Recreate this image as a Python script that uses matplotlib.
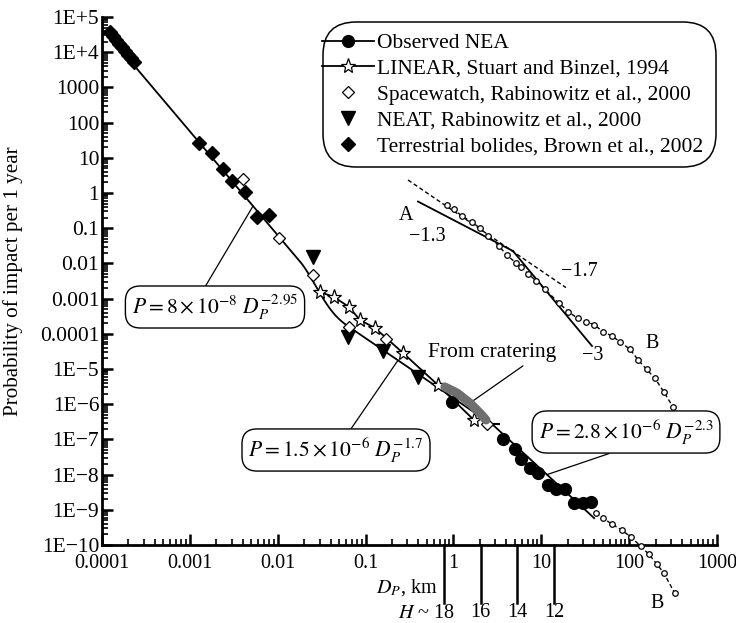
import numpy as np
import matplotlib
matplotlib.use("Agg")
import matplotlib.pyplot as plt
from matplotlib.lines import Line2D
from matplotlib.patches import FancyBboxPatch

plt.rcParams['font.family'] = ['Liberation Serif', 'DejaVu Serif']
plt.rcParams['mathtext.fontset'] = 'stix'

W, H = 736, 623
FS = 14.5
LFS = 15.5

# ---------------- data ----------------
x_ticks = [1e-4, 1e-3, 1e-2, 1e-1, 1, 10, 100, 1000]
x_labels = ['0.0001', '0.001', '0.01', '0.1', '1', '10', '100', '1000']
y_ticks = [1e5, 1e4, 1e3, 1e2, 1e1, 1, 1e-1, 1e-2, 1e-3, 1e-4,
           1e-5, 1e-6, 1e-7, 1e-8, 1e-9, 1e-10]
y_labels = ['1E+5', '1E+4', '1000', '100', '10', '1', '0.1', '0.01', '0.001',
            '0.0001', '1E\u22125', '1E\u22126', '1E\u22127', '1E\u22128',
            '1E\u22129', '1E\u221210']

# power-law fits  P = a * D^b
fit_small = (8e-8, -2.95)
fit_mid = (1.5e-6, -1.7)
fit_large = (2.8e-6, -2.3)

bolide_d = [1.23e-4, 1.33e-4, 1.44e-4, 1.56e-4, 1.69e-4, 1.83e-4, 1.98e-4,
            2.14e-4, 2.31e-4, 1.27e-3, 1.79e-3, 2.38e-3, 3.02e-3, 4.25e-3,
            5.8e-3, 7.96e-3]
bolide_p = [3.75e4, 2.9e4, 2.2e4, 1.7e4, 1.4e4, 1.08e4, 8.3e3, 6.8e3, 5.3e3,
            26, 13.7, 4.8, 2.2, 1.07, 0.21, 0.24]

spacewatch_d = [4.03e-3, 1.035e-2, 0.0252, 0.0648, 0.1706, 2.41]
spacewatch_p = [2.5, 0.053, 4.7e-3, 1.56e-4, 7.1e-5, 2.74e-7]

neat_d = [0.0252, 0.063, 0.158, 0.395]
neat_p = [0.0152, 8.1e-5, 3.24e-5, 5.9e-6]

linear_d = [0.0303, 0.0437, 0.0648, 0.0863, 0.128, 0.267, 0.667, 1.71]
linear_p = [1.54e-3, 1.11e-3, 5.8e-4, 2.47e-4, 1.46e-4, 2.85e-5, 3.5e-6, 3.56e-7]

nea_d = [0.96, 3.65, 5.0, 5.85, 7.4, 9.1, 11.9, 14.6, 18.5, 23.4, 29.6, 36.6]
nea_p = [1.15e-6, 1.03e-7, 5.3e-8, 2.8e-8, 1.54e-8, 1.1e-8, 5.1e-9, 3.9e-9,
         3.9e-9, 1.56e-9, 1.56e-9, 1.67e-9]

crater_d = [0.80, 1.10, 1.54, 2.00, 2.35]
crater_p = [3.08e-6, 2.08e-6, 1.08e-6, 5.6e-7, 3.56e-7]

curve_b_d = [41.7, 50.1, 63.4, 82.4, 104, 135, 167, 206, 248, 330]
curve_b_p = [8.1e-10, 5.85e-10, 3.95e-10, 2.67e-10, 1.69e-10, 9.4e-11,
             5.5e-11, 2.9e-11, 1.6e-11, 4.3e-12]

inset_d = [0.837, 1.02, 1.24, 1.61, 2.01, 2.49, 3.30, 4.04, 5.11, 5.87, 7.11,
           8.71, 11.0, 16.0, 20.3, 25.9, 32.7, 40.1, 50.8, 63.3, 78.7, 102,
           127, 158, 197, 249, 316]
inset_p = [0.456, 0.344, 0.222, 0.153, 0.0993, 0.060, 0.0312, 0.0173, 0.0105,
           8.05e-3, 5.0e-3, 3.23e-3, 1.84e-3, 7.35e-4, 4.25e-4, 2.75e-4,
           2.23e-4, 1.78e-4, 1.15e-4, 8.7e-5, 5.97e-5, 3.63e-5, 1.8e-5,
           9.8e-6, 5.4e-6, 2.2e-6, 8.3e-7]

# schematic broken power law (A) and reference slope
a_break = (4.76, 0.0225)
a_span = (0.395, 37.8)
a_slopes = (-1.3, -3.0)
ref_anchor = (0.304, 2.34)
ref_end = 19.1
ref_slope = -1.7

h_mag = [18, 16, 14, 12]
h_diam = [0.78, 2.04, 5.33, 13.95]


def fpos(px, py):
    return px / W, 1 - py / H


def law(fit, logd):
    return np.log10(fit[0]) + fit[1] * logd


# ---------------- figure ----------------
fig = plt.figure(figsize=(W / 100, H / 100), dpi=100)
ax = fig.add_axes([102 / W, 1 - 545 / H, 615 / W, 528 / H])
ax.set_xscale('log')
ax.set_yscale('log')
ax.set_xlim(1e-4, 1e3)
ax.set_ylim(1e-10, 1e5)
for s in ('top', 'right'):
    ax.spines[s].set_visible(False)
for s in ('left', 'bottom'):
    ax.spines[s].set_linewidth(2.0)

ax.set_xticks(x_ticks)
ax.set_xticklabels(x_labels)
ax.set_yticks(y_ticks)
ax.set_yticklabels(y_labels)
ax.xaxis.set_minor_locator(matplotlib.ticker.LogLocator(base=10, subs=np.arange(2, 10), numticks=30))
ax.yaxis.set_minor_locator(matplotlib.ticker.LogLocator(base=10, subs=np.arange(2, 10), numticks=30))
ax.xaxis.set_minor_formatter(matplotlib.ticker.NullFormatter())
ax.yaxis.set_minor_formatter(matplotlib.ticker.NullFormatter())
ax.tick_params(which='major', direction='in', length=8, width=1.8)
ax.tick_params(axis='x', which='major', labelsize=FS, pad=6.5)
ax.tick_params(axis='y', which='major', labelsize=15.5, pad=2)
ax.tick_params(which='minor', direction='in', length=4.5, width=1.2)

# main fitted curve: steep law -> smooth transition -> -1.7 law -> -2.3 law
L = np.linspace(np.log10(1.15e-4), np.log10(40.0), 900)
p1 = law(fit_small, L)
p2 = law(fit_mid, L)
p3 = law(fit_large, L)
t = np.clip((L + 1.75) / 0.55, 0, 1)
w = (1 - np.cos(np.pi * t)) / 2
main = (1 - w) * p1 + w * p2
main = np.where(L > -1.2, np.minimum(p2, p3), main)
ax.plot(10 ** L, 10 ** main, color='k', lw=1.3, zorder=3)

# LINEAR series
ax.plot(linear_d, linear_p, color='k', lw=1.3, zorder=3)
ax.plot(linear_d, linear_p, ls='none', marker='*', ms=11, mfc='white',
        mec='k', mew=0.9, zorder=5)

# terrestrial bolides
ax.plot(bolide_d, bolide_p, ls='none', marker='D', ms=7.5, color='k', zorder=5)

# Spacewatch
ax.errorbar(spacewatch_d[-1:], spacewatch_p[-1:], xerr=[[0], [0.98]],
            fmt='none', ecolor='k', elinewidth=1.5, zorder=4)
ax.plot(spacewatch_d, spacewatch_p, ls='none', marker='D', ms=6, mfc='white',
        mec='k', mew=0.9, zorder=6)

# NEAT
ax.plot(neat_d, neat_p, ls='none', marker='v', ms=10, color='k', zorder=5)

# observed NEA
ax.plot(nea_d, nea_p, ls='none', marker='o', ms=8.5, color='k', zorder=5)

# cratering band
ax.plot(crater_d, crater_p, color='#6f6f6f', lw=6.5, solid_capstyle='round',
        zorder=7)

# extrapolated distribution (B)
ax.plot(curve_b_d, curve_b_p, color='k', lw=1.0, ls=(0, (3, 2)),
        marker='o', ms=4, mfc='white', mec='k', mew=0.9, clip_on=False,
        zorder=4)

# inset: shifted distribution, broken law A and reference slope
ax.plot(inset_d, inset_p, color='k', lw=1.0, ls=(0, (3, 2)),
        marker='o', ms=4, mfc='white', mec='k', mew=0.9, zorder=4)
da = np.array([a_span[0], a_break[0]])
db = np.array([a_break[0], a_span[1]])
ax.plot(da, a_break[1] * (da / a_break[0]) ** a_slopes[0], color='k', lw=1.3)
ax.plot(db, a_break[1] * (db / a_break[0]) ** a_slopes[1], color='k', lw=1.3)
dr = np.array([ref_anchor[0], ref_end])
ax.plot(dr, ref_anchor[1] * (dr / ref_anchor[0]) ** ref_slope, color='k',
        lw=1.0, ls=(0, (3, 2)))

# diameter -> absolute magnitude marks
tr = ax.get_xaxis_transform()
for d, h in zip(h_diam, h_mag):
    ax.plot([d, d], [0, -0.11], transform=tr, color='k', lw=1.8,
            clip_on=False)
    if h != 18:
        ax.text(d, -0.128, str(h), transform=tr, ha='center', va='center',
                fontsize=FS)
fig.text(*fpos(455, 613), '$H$ ~ 18', ha='right', va='center', fontsize=FS)

# labels
fig.text(*fpos(438, 588), '$D_P$, km', ha='right', va='center', fontsize=FS)
fig.text(*fpos(13, 281), 'Probability of impact per 1 year', rotation=90,
         ha='center', va='center', fontsize=15.2)

for (px, py, s) in [(406, 215, 'A'), (427, 237, '\u22121.3'),
                    (579, 271, '\u22121.7'), (593, 356, '\u22123'),
                    (652, 344, 'B'), (657, 604, 'B')]:
    fig.text(*fpos(px, py), s, ha='center', va='center', fontsize=FS)

# fit annotations
box = dict(boxstyle='round,pad=0.3,rounding_size=0.7', fc='white', ec='k', lw=1.0)


def fit_point(fit, d):
    return d, fit[0] * d ** fit[1]


ax.annotate(r'$P = 8 \times 10^{-8}\ D_P^{-2.95}$',
            xy=fit_point(fit_small, 0.00524), xycoords='data',
            xytext=fpos(215, 307), textcoords='figure fraction',
            ha='center', va='center', fontsize=LFS, bbox=box,
            arrowprops=dict(arrowstyle='-', lw=0.9, color='k',
                            relpos=(0.42, 1.0), shrinkA=0, shrinkB=0))
ax.annotate(r'$P = 1.5 \times 10^{-6}\ D_P^{-1.7}$',
            xy=fit_point(fit_mid, 0.234), xycoords='data',
            xytext=fpos(336, 450), textcoords='figure fraction',
            ha='center', va='center', fontsize=LFS, bbox=box,
            arrowprops=dict(arrowstyle='-', lw=0.9, color='k',
                            relpos=(0.56, 1.0), shrinkA=0, shrinkB=0))
ax.annotate(r'$P = 2.8 \times 10^{-6}\ D_P^{-2.3}$',
            xy=fit_point(fit_large, 11.6), xycoords='data',
            xytext=fpos(626, 432), textcoords='figure fraction',
            ha='center', va='center', fontsize=LFS, bbox=box,
            arrowprops=dict(arrowstyle='-', lw=0.9, color='k',
                            relpos=(0.52, 0.0), shrinkA=0, shrinkB=0))
ax.annotate('From cratering', xy=(crater_d[2], crater_p[2]), xycoords='data',
            xytext=fpos(492, 352), textcoords='figure fraction',
            ha='center', va='center', fontsize=LFS,
            arrowprops=dict(arrowstyle='-', lw=0.9, color='k',
                            relpos=(0.79, 0.0), shrinkA=2, shrinkB=0))

# legend
x0, y0 = fpos(323, 167)
x1, y1 = fpos(716, 22)
frame = FancyBboxPatch((x0, y0), x1 - x0, y1 - y0,
                       boxstyle='round,pad=0,rounding_size=0.045',
                       transform=fig.transFigure, fc='white', ec='k', lw=1.1,
                       mutation_aspect=W / H, zorder=8)
fig.patches.append(frame)
handles = [
    Line2D([], [], color='k', lw=1.3, marker='o', ms=8.5),
    Line2D([], [], color='k', lw=1.3, marker='*', ms=11, mfc='white', mew=0.9),
    Line2D([], [], ls='none', marker='D', ms=6, mfc='white', mec='k', mew=0.9),
    Line2D([], [], ls='none', marker='v', ms=10, color='k'),
    Line2D([], [], ls='none', marker='D', ms=7.5, color='k'),
]
labels = ['Observed NEA', 'LINEAR, Stuart and Binzel, 1994',
          'Spacewatch, Rabinowitz et al., 2000', 'NEAT, Rabinowitz et al., 2000',
          'Terrestrial bolides, Brown et al., 2002']
leg = fig.legend(handles, labels, loc='upper left',
                 bbox_to_anchor=fpos(322, 33), frameon=False, borderpad=0,
                 handlelength=2.4, handletextpad=0.15, labelspacing=0.27,
                 borderaxespad=0, fontsize=LFS)
leg.set_zorder(9)

fig.savefig('out.png', dpi=100)
